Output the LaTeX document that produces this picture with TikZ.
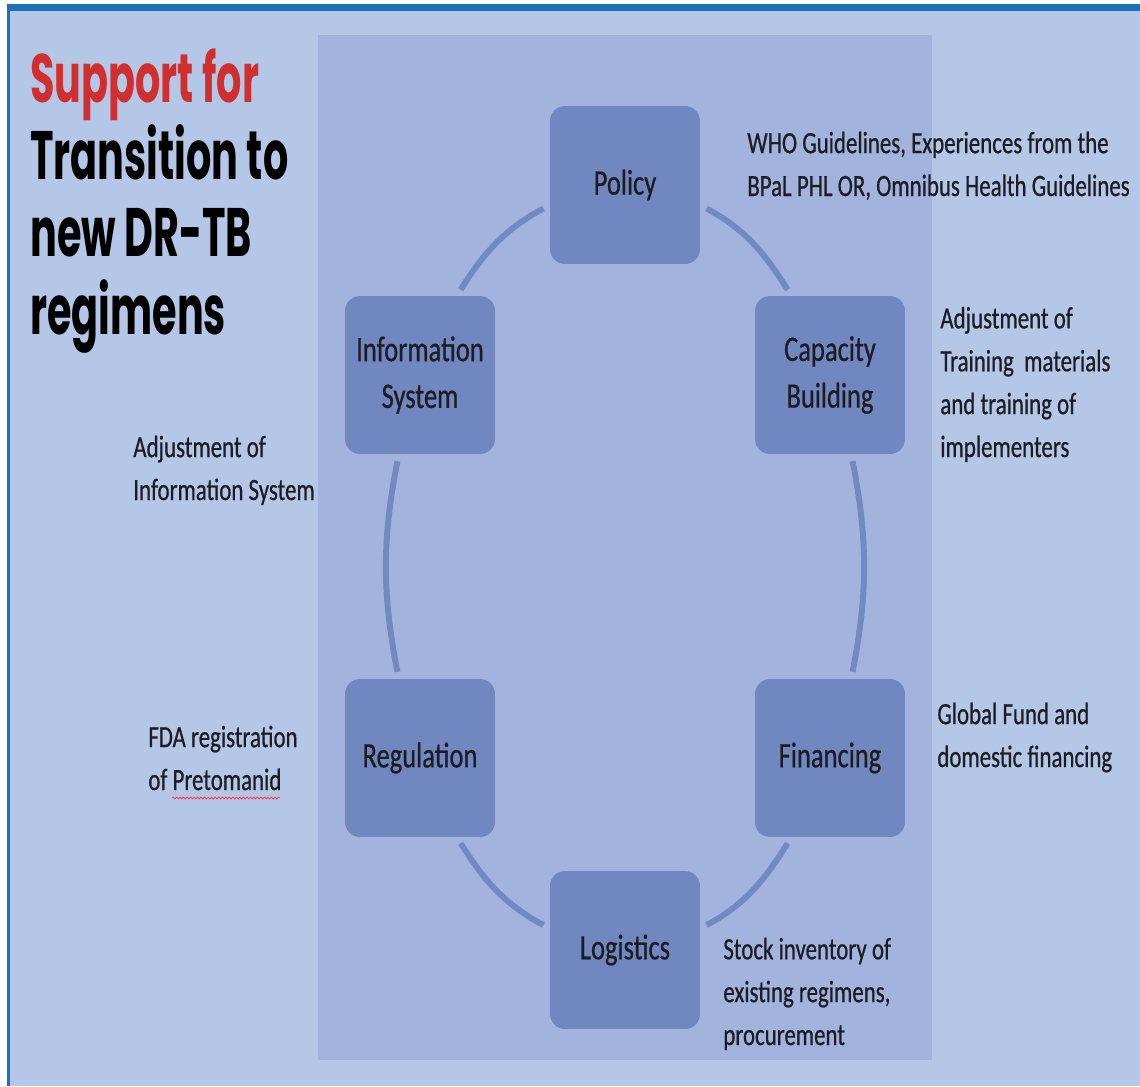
\documentclass[tikz,border=0pt]{standalone}
\usepackage{fontspec}
\setmainfont{Carlito}[FakeStretch=0.74,FakeBold=0.6]
\newfontfamily\headfont{Poppins}[FakeStretch=0.58]
\usetikzlibrary{decorations.pathmorphing}

\definecolor{bgblue}{HTML}{B4C7E7}
\definecolor{panelblue}{HTML}{A2B4DD}
\definecolor{boxblue}{HTML}{7187C0}
\definecolor{ringblue}{HTML}{7389C2}
\definecolor{frameblue}{HTML}{1F70BA}
\definecolor{titlered}{HTML}{D12F2F}
\definecolor{ink}{HTML}{1C1C22}

\begin{document}
\begin{tikzpicture}[x=0.02cm,y=-0.02cm,
  box/.style={fill=boxblue,rounded corners=0.3cm,minimum width=3cm,minimum height=3.16cm,
    align=center,text=ink,font=\fontsize{20.4}{26.6}\selectfont},
  ring/.style={draw=ringblue,line width=3.4pt,shorten <=0.14cm,shorten >=0.14cm},
  note/.style={anchor=base west,inner sep=0,align=left,text=ink,font=\fontsize{17.6}{24.4}\selectfont}]
\useasboundingbox (0,0) rectangle (1140,1086);
\fill[white] (0,0) rectangle (1140,1086);
\fill[bgblue] (7,4) rectangle (1140,1086);
\fill[frameblue] (7,4) rectangle (1140,11);
\fill[frameblue] (7,4) rectangle (9.5,1086);
\fill[panelblue] (318,35) rectangle (932,1060);

\node[anchor=base west,inner sep=0,align=left,text=black,
  font=\headfont\bfseries\fontsize{39}{44}\selectfont] (title) at (30,334)
  {\textcolor{titlered}{Support for}\\Transition to\\new DR-TB\\regimens};

\foreach \x/\y/\n/\t in {625/185/policy/Policy,830/375/capacity/{Capacity\\Building},
  830/758/financing/Financing,625/950/logistics/Logistics,
  420/758/regulation/Regulation,420/375/information/{Information\\System}}
  \node[box] (\n) at (\x,\y) {\t};

\foreach \a/\p/\o/\i/\q/\b in {policy/-15/-28/122/116/capacity,capacity/-75/-79/79/75/financing,
  financing/244/238/28/16/logistics,logistics/164/152/-58/-65/regulation,
  regulation/105/101/259/255/information,information/65/58/208/195/policy}
  \draw[ring] (\a.\p) to[out=\o,in=\i] (\b.\q);

\node[note] (policynote) at (747,196) {WHO Guidelines, Experiences from the\\BPaL PHL OR, Omnibus Health Guidelines};
\node[note] (capacitynote) at (940,457) {Adjustment of\\Training\ \ materials\\and training of\\implementers};
\node[note] (informationnote) at (133,500) {Adjustment of\\Information System};
\node[note] (regulationnote) at (148,790) {FDA registration\\of Pretomanid};
\node[note] (financingnote) at (937,767) {Global Fund and\\domestic financing};
\node[note] (logisticsnote) at (723,1045) {Stock inventory of\\existing regimens,\\procurement};

\draw[red!75,line width=0.5pt,decorate,decoration={snake,amplitude=0.5pt,segment length=2pt}]
  (172,798) -- (280,798);
\end{tikzpicture}
\end{document}
